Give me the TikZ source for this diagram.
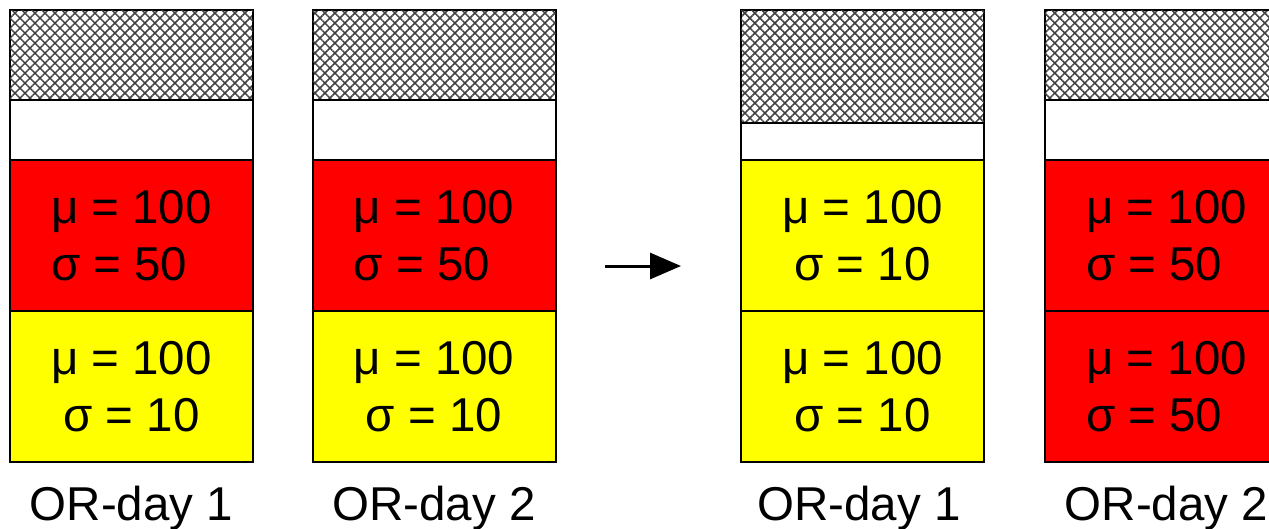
\documentclass[tikz,border=0pt]{standalone}
\usepackage{fontspec}
\setmainfont{Liberation Sans}
\usetikzlibrary{patterns.meta,arrows.meta}
\definecolor{yel}{RGB}{255,255,0}
\definecolor{rd}{RGB}{255,0,0}
\begin{document}
\begin{tikzpicture}[x=1pt,y=-1pt,
  seg/.style={draw=black, line width=2pt, minimum width=243pt, inner sep=0pt, outer sep=0pt,
    font=\fontsize{47.5}{57}\selectfont},
  hatchbox/.style={seg, fill=white, pattern color=black!75,
    pattern={Lines[angle=45,distance=7.07pt,line width=1.5pt]},
    postaction={pattern color=black!75, pattern={Lines[angle=-45,distance=7.07pt,line width=1.5pt]}}},
  emptybox/.style={seg, fill=white},
  redbox/.style={seg, fill=rd, minimum height=151pt, align=left},
  yelbox/.style={seg, fill=yel, minimum height=151pt, align=center},
  daylabel/.style={anchor=base, inner sep=0pt, font=\fontsize{47.5}{57}\selectfont},
  arr/.style={line width=3pt, -{Triangle[length=31pt,width=26pt]}}
]
\useasboundingbox (0,0) rectangle (1269,528);
\clip (0,0) rectangle (1269,528);
% column 1
\node[hatchbox, minimum height=90pt] (h1) at (131.5,55) {};
\node[emptybox, minimum height=60pt] (w1) at (131.5,130) {};
\node[redbox] (a1) at (131.5,235.5) {μ = 100\\σ = 50};
\node[yelbox] (b1) at (131.5,386.5) {μ = 100\\σ = 10};
\node[daylabel] (l1) at (131.5,520) {OR-day 1};
% column 2
\node[hatchbox, minimum height=90pt] (h2) at (434,55) {};
\node[emptybox, minimum height=60pt] (w2) at (434,130) {};
\node[redbox] (a2) at (434,235.5) {μ = 100\\σ = 50};
\node[yelbox] (b2) at (434,386.5) {μ = 100\\σ = 10};
\node[daylabel] (l2) at (434,520) {OR-day 2};
% arrow
\coordinate (as) at (605,266);
\coordinate (ae) at (681,266);
\draw[arr] (as) -- (ae);
% column 3
\node[hatchbox, minimum height=113pt] (h3) at (862.5,66.5) {};
\node[emptybox, minimum height=37pt] (w3) at (862.5,141.5) {};
\node[yelbox] (a3) at (862.5,235.5) {μ = 100\\σ = 10};
\node[yelbox] (b3) at (862.5,386.5) {μ = 100\\σ = 10};
\node[daylabel] (l3) at (859,520) {OR-day 1};
% column 4
\node[hatchbox, minimum height=90pt] (h4) at (1166.5,55) {};
\node[emptybox, minimum height=60pt] (w4) at (1166.5,130) {};
\node[redbox] (a4) at (1166.5,235.5) {μ = 100\\σ = 50};
\node[redbox] (b4) at (1166.5,386.5) {μ = 100\\σ = 50};
\node[daylabel] (l4) at (1166.5,520) {OR-day 2};
\end{tikzpicture}
\end{document}
